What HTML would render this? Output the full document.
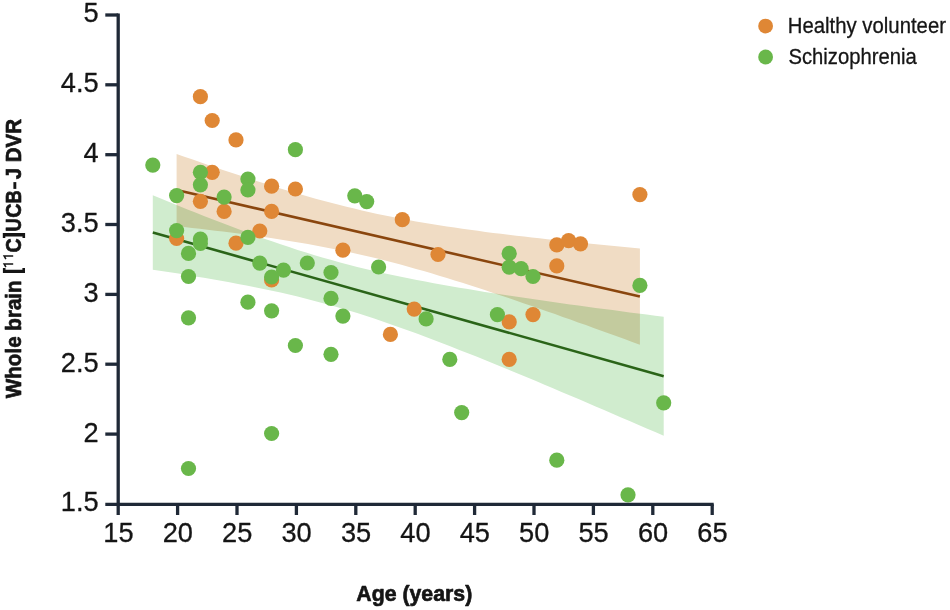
<!DOCTYPE html>
<html><head><meta charset="utf-8"><title>Whole brain UCB-J DVR vs age</title>
<style>
html,body{margin:0;padding:0;background:#fff;}
body{width:950px;height:610px;overflow:hidden;font-family:"Liberation Sans",sans-serif;}
svg{display:block;isolation:isolate;}
</style></head>
<body>
<svg width="950" height="610" viewBox="0 0 950 610">
<rect width="950" height="610" fill="#fff"/>
<path d="M176.6,154.0 L184.3,156.7 L192.0,159.3 L199.8,162.0 L207.5,164.7 L215.2,167.3 L222.9,169.9 L230.7,172.5 L238.4,175.0 L246.1,177.6 L253.8,180.1 L261.5,182.5 L269.3,185.0 L277.0,187.4 L284.7,189.7 L292.4,192.0 L300.2,194.3 L307.9,196.5 L315.6,198.7 L323.3,200.8 L331.0,202.8 L338.8,204.8 L346.5,206.8 L354.2,208.6 L361.9,210.5 L369.7,212.2 L377.4,213.9 L385.1,215.5 L392.8,217.1 L400.5,218.6 L408.3,220.0 L416.0,221.4 L423.7,222.7 L431.4,224.0 L439.1,225.2 L446.9,226.4 L454.6,227.6 L462.3,228.7 L470.0,229.8 L477.8,230.8 L485.5,231.9 L493.2,232.9 L500.9,233.8 L508.6,234.8 L516.4,235.7 L524.1,236.6 L531.8,237.5 L539.5,238.3 L547.3,239.2 L555.0,240.0 L562.7,240.8 L570.4,241.6 L578.1,242.4 L585.9,243.2 L593.6,244.0 L601.3,244.8 L609.0,245.5 L616.8,246.3 L624.5,247.0 L632.2,247.7 L639.9,248.5 L639.9,344.7 L632.2,341.9 L624.5,339.1 L616.8,336.3 L609.0,333.5 L601.3,330.7 L593.6,327.9 L585.9,325.1 L578.1,322.4 L570.4,319.6 L562.7,316.9 L555.0,314.1 L547.3,311.4 L539.5,308.7 L531.8,306.0 L524.1,303.4 L516.4,300.7 L508.6,298.1 L500.9,295.5 L493.2,292.9 L485.5,290.3 L477.8,287.8 L470.0,285.3 L462.3,282.8 L454.6,280.4 L446.9,278.0 L439.1,275.7 L431.4,273.3 L423.7,271.1 L416.0,268.9 L408.3,266.7 L400.5,264.6 L392.8,262.5 L385.1,260.6 L377.4,258.6 L369.7,256.8 L361.9,254.9 L354.2,253.2 L346.5,251.5 L338.8,249.9 L331.0,248.4 L323.3,246.9 L315.6,245.4 L307.9,244.0 L300.2,242.7 L292.4,241.4 L284.7,240.2 L277.0,239.0 L269.3,237.8 L261.5,236.7 L253.8,235.6 L246.1,234.6 L238.4,233.6 L230.7,232.6 L222.9,231.6 L215.2,230.7 L207.5,229.7 L199.8,228.8 L192.0,228.0 L184.3,227.1 L176.6,226.2Z" fill="#F0DCC4"/>
<path d="M152.8,195.3 L161.4,198.8 L169.9,202.3 L178.4,205.8 L186.9,209.2 L195.4,212.6 L203.9,215.9 L212.4,219.3 L221.0,222.6 L229.5,225.8 L238.0,229.0 L246.5,232.2 L255.0,235.3 L263.5,238.4 L272.0,241.3 L280.6,244.3 L289.1,247.1 L297.6,249.9 L306.1,252.6 L314.6,255.2 L323.1,257.7 L331.6,260.1 L340.1,262.5 L348.7,264.7 L357.2,266.9 L365.7,269.0 L374.2,271.0 L382.7,272.9 L391.2,274.8 L399.7,276.6 L408.3,278.3 L416.8,280.0 L425.3,281.6 L433.8,283.2 L442.3,284.8 L450.8,286.3 L459.3,287.7 L467.9,289.1 L476.4,290.5 L484.9,291.9 L493.4,293.2 L501.9,294.5 L510.4,295.8 L518.9,297.1 L527.5,298.3 L536.0,299.6 L544.5,300.8 L553.0,302.0 L561.5,303.2 L570.0,304.4 L578.5,305.5 L587.1,306.7 L595.6,307.9 L604.1,309.0 L612.6,310.1 L621.1,311.3 L629.6,312.4 L638.1,313.5 L646.7,314.6 L655.2,315.7 L663.7,316.8 L663.7,435.8 L655.2,432.1 L646.7,428.4 L638.1,424.7 L629.6,421.0 L621.1,417.4 L612.6,413.7 L604.1,410.0 L595.6,406.4 L587.1,402.7 L578.5,399.1 L570.0,395.5 L561.5,391.9 L553.0,388.3 L544.5,384.7 L536.0,381.1 L527.5,377.6 L518.9,374.0 L510.4,370.5 L501.9,367.0 L493.4,363.5 L484.9,360.1 L476.4,356.6 L467.9,353.2 L459.3,349.9 L450.8,346.5 L442.3,343.2 L433.8,340.0 L425.3,336.7 L416.8,333.6 L408.3,330.5 L399.7,327.4 L391.2,324.4 L382.7,321.5 L374.2,318.6 L365.7,315.8 L357.2,313.1 L348.7,310.5 L340.1,308.0 L331.6,305.5 L323.1,303.2 L314.6,300.9 L306.1,298.7 L297.6,296.6 L289.1,294.6 L280.6,292.6 L272.0,290.8 L263.5,289.0 L255.0,287.2 L246.5,285.5 L238.0,283.9 L229.5,282.3 L221.0,280.8 L212.4,279.3 L203.9,277.8 L195.4,276.4 L186.9,275.0 L178.4,273.6 L169.9,272.3 L161.4,271.0 L152.8,269.7Z" fill="#D0ECCE" style="mix-blend-mode:multiply"/>
<line x1="176.6" y1="190.1" x2="639.9" y2="296.6" stroke="#8A460E" stroke-width="2.6"/>
<line x1="152.8" y1="232.5" x2="663.7" y2="376.3" stroke="#2A6418" stroke-width="2.6"/>
<circle cx="200.4" cy="96.7" r="7.6" fill="#DF8735"/>
<circle cx="212.2" cy="120.5" r="7.6" fill="#DF8735"/>
<circle cx="236.0" cy="139.9" r="7.6" fill="#DF8735"/>
<circle cx="212.2" cy="172.3" r="7.6" fill="#DF8735"/>
<circle cx="271.6" cy="186.2" r="7.6" fill="#DF8735"/>
<circle cx="295.4" cy="189.0" r="7.6" fill="#DF8735"/>
<circle cx="200.4" cy="201.3" r="7.6" fill="#DF8735"/>
<circle cx="224.1" cy="211.4" r="7.6" fill="#DF8735"/>
<circle cx="271.6" cy="211.4" r="7.6" fill="#DF8735"/>
<circle cx="176.6" cy="238.5" r="7.6" fill="#DF8735"/>
<circle cx="259.8" cy="231.0" r="7.6" fill="#DF8735"/>
<circle cx="236.0" cy="243.2" r="7.6" fill="#DF8735"/>
<circle cx="271.6" cy="279.9" r="7.6" fill="#DF8735"/>
<circle cx="402.3" cy="219.7" r="7.6" fill="#DF8735"/>
<circle cx="342.9" cy="250.2" r="7.6" fill="#DF8735"/>
<circle cx="438.0" cy="254.5" r="7.6" fill="#DF8735"/>
<circle cx="414.2" cy="309.1" r="7.6" fill="#DF8735"/>
<circle cx="390.4" cy="334.4" r="7.6" fill="#DF8735"/>
<circle cx="509.2" cy="321.9" r="7.6" fill="#DF8735"/>
<circle cx="509.2" cy="359.4" r="7.6" fill="#DF8735"/>
<circle cx="533.0" cy="314.6" r="7.6" fill="#DF8735"/>
<circle cx="556.8" cy="244.9" r="7.6" fill="#DF8735"/>
<circle cx="568.6" cy="240.6" r="7.6" fill="#DF8735"/>
<circle cx="580.5" cy="243.8" r="7.6" fill="#DF8735"/>
<circle cx="556.8" cy="265.9" r="7.6" fill="#DF8735"/>
<circle cx="639.9" cy="194.6" r="7.6" fill="#DF8735"/>
<circle cx="152.8" cy="165.1" r="7.6" fill="#69B74A"/>
<circle cx="295.4" cy="149.7" r="7.6" fill="#69B74A"/>
<circle cx="200.4" cy="172.3" r="7.6" fill="#69B74A"/>
<circle cx="200.4" cy="184.8" r="7.6" fill="#69B74A"/>
<circle cx="247.9" cy="179.0" r="7.6" fill="#69B74A"/>
<circle cx="247.9" cy="190.0" r="7.6" fill="#69B74A"/>
<circle cx="176.6" cy="195.6" r="7.6" fill="#69B74A"/>
<circle cx="224.1" cy="197.1" r="7.6" fill="#69B74A"/>
<circle cx="176.6" cy="230.6" r="7.6" fill="#69B74A"/>
<circle cx="200.4" cy="239.1" r="7.6" fill="#69B74A"/>
<circle cx="200.4" cy="243.4" r="7.6" fill="#69B74A"/>
<circle cx="247.9" cy="237.4" r="7.6" fill="#69B74A"/>
<circle cx="188.5" cy="253.4" r="7.6" fill="#69B74A"/>
<circle cx="259.8" cy="263.1" r="7.6" fill="#69B74A"/>
<circle cx="307.3" cy="263.0" r="7.6" fill="#69B74A"/>
<circle cx="283.5" cy="270.2" r="7.6" fill="#69B74A"/>
<circle cx="271.6" cy="277.0" r="7.6" fill="#69B74A"/>
<circle cx="188.5" cy="276.5" r="7.6" fill="#69B74A"/>
<circle cx="331.0" cy="272.5" r="7.6" fill="#69B74A"/>
<circle cx="331.0" cy="298.4" r="7.6" fill="#69B74A"/>
<circle cx="247.9" cy="302.2" r="7.6" fill="#69B74A"/>
<circle cx="271.6" cy="310.8" r="7.6" fill="#69B74A"/>
<circle cx="188.5" cy="317.8" r="7.6" fill="#69B74A"/>
<circle cx="295.4" cy="345.5" r="7.6" fill="#69B74A"/>
<circle cx="331.0" cy="354.3" r="7.6" fill="#69B74A"/>
<circle cx="271.6" cy="433.5" r="7.6" fill="#69B74A"/>
<circle cx="188.5" cy="468.5" r="7.6" fill="#69B74A"/>
<circle cx="354.8" cy="195.8" r="7.6" fill="#69B74A"/>
<circle cx="366.7" cy="201.6" r="7.6" fill="#69B74A"/>
<circle cx="378.6" cy="267.0" r="7.6" fill="#69B74A"/>
<circle cx="342.9" cy="316.1" r="7.6" fill="#69B74A"/>
<circle cx="426.1" cy="318.9" r="7.6" fill="#69B74A"/>
<circle cx="449.8" cy="359.4" r="7.6" fill="#69B74A"/>
<circle cx="461.7" cy="412.6" r="7.6" fill="#69B74A"/>
<circle cx="497.4" cy="314.6" r="7.6" fill="#69B74A"/>
<circle cx="509.2" cy="253.4" r="7.6" fill="#69B74A"/>
<circle cx="509.2" cy="267.2" r="7.6" fill="#69B74A"/>
<circle cx="521.1" cy="268.6" r="7.6" fill="#69B74A"/>
<circle cx="533.0" cy="276.5" r="7.6" fill="#69B74A"/>
<circle cx="639.9" cy="285.4" r="7.6" fill="#69B74A"/>
<circle cx="663.7" cy="402.8" r="7.6" fill="#69B74A"/>
<circle cx="556.8" cy="460.2" r="7.6" fill="#69B74A"/>
<circle cx="628.0" cy="494.8" r="7.6" fill="#69B74A"/>
<g stroke="#1F2937" stroke-width="3.3" fill="none">
<path d="M118.2,13.5 V505.8"/>
<path d="M105.3,504.3 H713.7"/>
<path d="M105.3,15.0 H118.2"/>
<path d="M105.3,84.8 H118.2"/>
<path d="M105.3,154.7 H118.2"/>
<path d="M105.3,224.5 H118.2"/>
<path d="M105.3,294.4 H118.2"/>
<path d="M105.3,364.2 H118.2"/>
<path d="M105.3,434.1 H118.2"/>
<path d="M118.2,504.3 V515"/>
<path d="M177.6,504.3 V515"/>
<path d="M237.0,504.3 V515"/>
<path d="M296.4,504.3 V515"/>
<path d="M355.8,504.3 V515"/>
<path d="M415.2,504.3 V515"/>
<path d="M474.6,504.3 V515"/>
<path d="M534.0,504.3 V515"/>
<path d="M593.4,504.3 V515"/>
<path d="M652.8,504.3 V515"/>
<path d="M712.2,504.3 V515"/>
</g>
<text transform="translate(98.60,22.40)" font-family="Liberation Sans, sans-serif" font-size="27.2" fill="#151515" text-anchor="end" stroke="#151515" stroke-width="0.3" stroke-linejoin="round">5</text>
<text transform="translate(98.60,92.25)" font-family="Liberation Sans, sans-serif" font-size="27.2" fill="#151515" text-anchor="end" stroke="#151515" stroke-width="0.3" stroke-linejoin="round">4.5</text>
<text transform="translate(98.60,162.10)" font-family="Liberation Sans, sans-serif" font-size="27.2" fill="#151515" text-anchor="end" stroke="#151515" stroke-width="0.3" stroke-linejoin="round">4</text>
<text transform="translate(98.60,231.95)" font-family="Liberation Sans, sans-serif" font-size="27.2" fill="#151515" text-anchor="end" stroke="#151515" stroke-width="0.3" stroke-linejoin="round">3.5</text>
<text transform="translate(98.60,301.80)" font-family="Liberation Sans, sans-serif" font-size="27.2" fill="#151515" text-anchor="end" stroke="#151515" stroke-width="0.3" stroke-linejoin="round">3</text>
<text transform="translate(98.60,371.65)" font-family="Liberation Sans, sans-serif" font-size="27.2" fill="#151515" text-anchor="end" stroke="#151515" stroke-width="0.3" stroke-linejoin="round">2.5</text>
<text transform="translate(98.60,441.50)" font-family="Liberation Sans, sans-serif" font-size="27.2" fill="#151515" text-anchor="end" stroke="#151515" stroke-width="0.3" stroke-linejoin="round">2</text>
<text transform="translate(98.60,511.35)" font-family="Liberation Sans, sans-serif" font-size="27.2" fill="#151515" text-anchor="end" stroke="#151515" stroke-width="0.3" stroke-linejoin="round">1.5</text>
<text transform="translate(118.40,541.80)" font-family="Liberation Sans, sans-serif" font-size="27.2" fill="#151515" text-anchor="middle" stroke="#151515" stroke-width="0.3" stroke-linejoin="round">15</text>
<text transform="translate(177.80,541.80)" font-family="Liberation Sans, sans-serif" font-size="27.2" fill="#151515" text-anchor="middle" stroke="#151515" stroke-width="0.3" stroke-linejoin="round">20</text>
<text transform="translate(237.20,541.80)" font-family="Liberation Sans, sans-serif" font-size="27.2" fill="#151515" text-anchor="middle" stroke="#151515" stroke-width="0.3" stroke-linejoin="round">25</text>
<text transform="translate(296.60,541.80)" font-family="Liberation Sans, sans-serif" font-size="27.2" fill="#151515" text-anchor="middle" stroke="#151515" stroke-width="0.3" stroke-linejoin="round">30</text>
<text transform="translate(356.00,541.80)" font-family="Liberation Sans, sans-serif" font-size="27.2" fill="#151515" text-anchor="middle" stroke="#151515" stroke-width="0.3" stroke-linejoin="round">35</text>
<text transform="translate(415.40,541.80)" font-family="Liberation Sans, sans-serif" font-size="27.2" fill="#151515" text-anchor="middle" stroke="#151515" stroke-width="0.3" stroke-linejoin="round">40</text>
<text transform="translate(474.80,541.80)" font-family="Liberation Sans, sans-serif" font-size="27.2" fill="#151515" text-anchor="middle" stroke="#151515" stroke-width="0.3" stroke-linejoin="round">45</text>
<text transform="translate(534.20,541.80)" font-family="Liberation Sans, sans-serif" font-size="27.2" fill="#151515" text-anchor="middle" stroke="#151515" stroke-width="0.3" stroke-linejoin="round">50</text>
<text transform="translate(593.60,541.80)" font-family="Liberation Sans, sans-serif" font-size="27.2" fill="#151515" text-anchor="middle" stroke="#151515" stroke-width="0.3" stroke-linejoin="round">55</text>
<text transform="translate(653.00,541.80)" font-family="Liberation Sans, sans-serif" font-size="27.2" fill="#151515" text-anchor="middle" stroke="#151515" stroke-width="0.3" stroke-linejoin="round">60</text>
<text transform="translate(712.40,541.80)" font-family="Liberation Sans, sans-serif" font-size="27.2" fill="#151515" text-anchor="middle" stroke="#151515" stroke-width="0.3" stroke-linejoin="round">65</text>
<text transform="translate(356.30,601.20) scale(0.9340,1)" font-family="Liberation Sans, sans-serif" font-size="22.8" font-weight="bold" fill="#151515" text-anchor="start" stroke="#151515" stroke-width="0.7" stroke-linejoin="round">Age (years)</text>
<text transform="translate(20.55,398.20) rotate(-90) scale(0.9040,1)" font-family="Liberation Sans, sans-serif" font-size="22.8" font-weight="bold" fill="#151515" text-anchor="start" stroke="#151515" stroke-width="0.7" stroke-linejoin="round">Whole brain</text>
<text transform="translate(20.55,252.40) rotate(-90) scale(0.8550,1)" font-family="Liberation Sans, sans-serif" font-size="22.8" font-weight="bold" fill="#151515" text-anchor="start" stroke="#151515" stroke-width="0.7" stroke-linejoin="round">C</text>
<text transform="translate(20.55,231.42) rotate(-90) scale(0.7986,1)" font-family="Liberation Sans, sans-serif" font-size="22.8" font-weight="bold" fill="#151515" text-anchor="start" stroke="#151515" stroke-width="0.7" stroke-linejoin="round">U</text>
<text transform="translate(20.55,217.71) rotate(-90) scale(0.8680,1)" font-family="Liberation Sans, sans-serif" font-size="22.8" font-weight="bold" fill="#151515" text-anchor="start" stroke="#151515" stroke-width="0.7" stroke-linejoin="round">C</text>
<text transform="translate(20.55,203.40) rotate(-90) scale(0.7990,1)" font-family="Liberation Sans, sans-serif" font-size="22.8" font-weight="bold" fill="#151515" text-anchor="start" stroke="#151515" stroke-width="0.7" stroke-linejoin="round">B</text>
<rect x="13.4" y="182.1" width="2.9" height="6.8" fill="#151515"/>
<text transform="translate(20.55,179.25) rotate(-90) scale(0.8990,1)" font-family="Liberation Sans, sans-serif" font-size="22.8" font-weight="bold" fill="#151515" text-anchor="start" stroke="#151515" stroke-width="0.7" stroke-linejoin="round">J DVR</text>
<path d="M2.9,267.9 H5.5 V269.7 H22.4 V267.9 H25.0 V273.1 H2.9 Z" fill="#151515"/>
<path d="M2.8,237.9 H5.3 V236.4 H22.5 V237.9 H25.1 V233.0 H2.8 Z" fill="#151515"/>
<path d="M13.2,263.9 H4.1 L5.9,267.1 M13.2,255.9 H4.1 L5.9,259.1" fill="none" stroke="#151515" stroke-width="1.5" stroke-linejoin="miter"/>
<circle cx="765.6" cy="26.1" r="7.4" fill="#DF8735"/>
<circle cx="765.6" cy="57.0" r="7.4" fill="#69B74A"/>
<text transform="translate(787.80,32.90) scale(0.9370,1)" font-family="Liberation Sans, sans-serif" font-size="21.7" fill="#151515" text-anchor="start" stroke="#151515" stroke-width="0.3" stroke-linejoin="round">Healthy volunteer</text>
<text transform="translate(788.40,63.70) scale(0.9340,1)" font-family="Liberation Sans, sans-serif" font-size="21.7" fill="#151515" text-anchor="start" stroke="#151515" stroke-width="0.3" stroke-linejoin="round">Schizophrenia</text>
</svg>
</body></html>
